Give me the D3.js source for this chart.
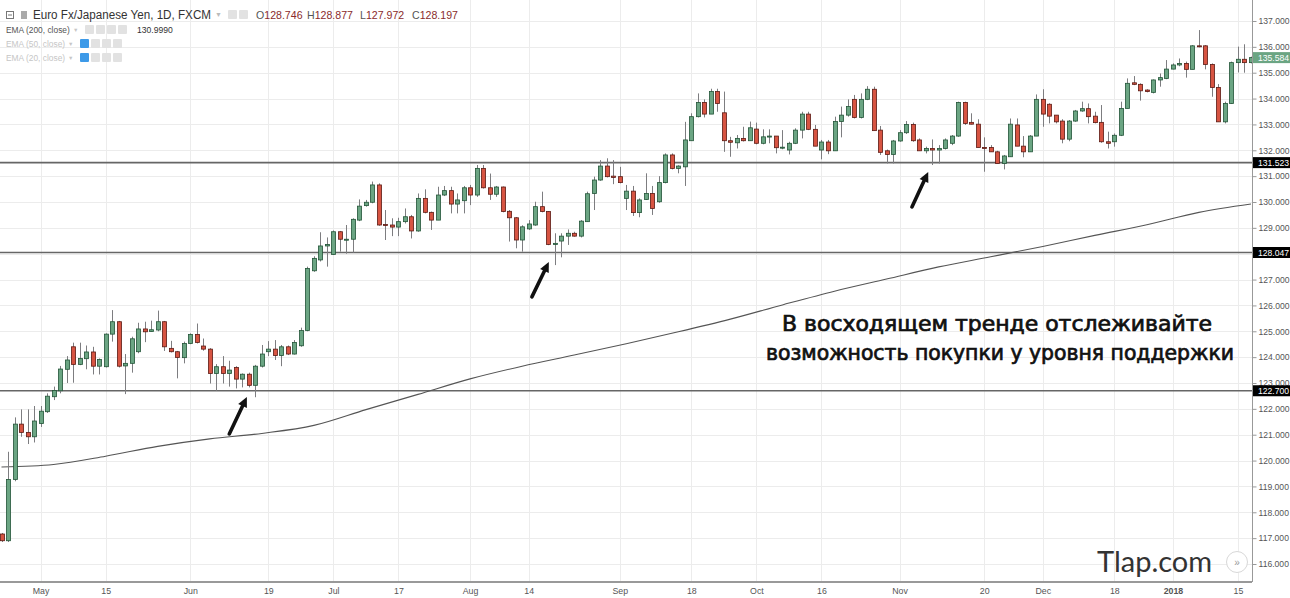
<!DOCTYPE html>
<meta charset="utf-8">
<style>
body { margin: 0; padding: 0; background: #fff; overflow: hidden; }
svg { display: block; font-family: "Liberation Sans", Arial, sans-serif; }
.axis path, .axis line { stroke: #999; }
.axis text { fill: #555; }
</style>
<body>
<svg id="chart" width="1290" height="598"></svg>
<script src="https://cdnjs.cloudflare.com/ajax/libs/d3/7.8.5/d3.min.js"></script>
<script>

// EUR/JPY daily, 21 Apr 2017 .. 17 Jan 2018 (weekdays, no 25 Dec)
var opens = [117.16,116.90,119.27,121.41,121.09,120.92,121.43,121.89,122.47,122.70,
  123.53,124.40,123.72,123.94,124.20,123.65,123.63,124.89,125.37,123.66,
  123.76,124.21,125.09,124.99,125.05,125.37,124.34,124.21,123.98,124.53,
  124.88,124.43,124.31,123.37,123.63,123.37,123.60,123.15,123.34,122.91,
  123.65,124.21,124.31,124.06,124.40,124.12,124.44,125.03,127.34,127.76,
  128.30,127.97,128.85,128.55,128.56,129.30,129.86,129.99,130.66,129.13,
  129.11,129.03,129.24,129.43,128.88,130.14,129.60,129.30,130.27,130.44,
  129.92,130.05,130.55,130.27,131.30,130.55,130.30,130.58,129.64,129.39,
  128.53,128.96,129.11,129.82,129.63,128.36,128.49,128.68,128.79,128.68,
  129.24,130.33,130.85,131.39,131.00,130.98,130.14,130.42,129.59,130.10,
  130.33,130.01,130.75,131.82,131.30,131.36,132.37,133.30,133.85,133.40,
  134.27,133.45,132.37,132.29,132.46,132.37,132.82,132.27,132.52,132.55,
  132.10,132.01,132.27,132.78,133.40,132.81,132.01,132.32,131.98,133.11,
  133.36,133.97,133.27,133.97,134.36,132.78,131.98,131.84,132.36,132.68,
  133.00,132.40,131.98,132.07,132.01,132.07,132.27,132.55,133.85,133.08,
  133.01,132.11,132.11,131.94,131.49,131.75,132.98,132.16,131.94,132.55,
  133.97,133.78,133.36,133.13,132.43,133.13,133.52,133.61,133.32,133.08,
  132.33,132.33,132.58,133.62,134.61,134.55,134.33,134.24,134.72,134.78,
  135.14,135.30,135.36,135.13,136.04,136.04,135.32,134.43,133.10,133.81,
  135.39,135.52,135.39];
var highs = [117.20,120.34,121.67,121.98,121.98,122.11,122.11,122.60,122.86,123.66,
  124.04,124.56,124.56,124.45,124.40,123.95,124.92,125.82,125.40,124.12,
  124.79,125.33,125.37,125.41,125.80,125.40,124.63,124.24,124.60,124.92,
  125.30,124.72,124.35,123.73,124.04,123.86,123.65,123.37,123.40,123.70,
  124.47,124.62,124.66,124.47,124.45,124.66,125.14,127.50,127.90,128.83,
  128.63,128.90,128.88,129.11,129.37,130.10,130.08,130.79,130.72,129.69,
  129.37,129.39,129.75,129.50,130.33,130.49,129.63,130.59,130.62,130.59,
  130.33,130.62,130.66,131.43,131.43,131.10,130.62,130.60,129.69,129.42,
  129.10,129.30,130.01,130.40,129.65,128.79,128.79,128.94,128.85,129.30,
  130.40,130.98,131.62,131.69,131.62,131.36,130.66,130.62,130.14,131.11,
  130.62,131.00,131.88,131.88,131.42,133.10,133.43,134.20,133.97,134.38,
  134.38,134.27,132.52,132.59,132.91,133.11,133.07,132.81,132.81,132.55,
  132.78,132.33,132.85,133.49,133.49,132.98,132.40,132.40,133.30,133.69,
  133.97,134.14,134.20,134.48,134.46,132.94,132.03,132.40,132.78,133.13,
  133.07,132.46,132.14,132.42,132.20,132.46,132.59,133.88,133.88,133.43,
  133.20,132.50,132.20,131.98,131.82,133.23,133.23,132.55,132.59,134.16,
  134.36,133.82,133.36,133.20,133.17,133.56,133.88,133.81,133.49,133.75,
  132.72,132.65,133.88,134.78,134.87,134.59,134.36,134.74,134.97,135.49,
  135.36,135.55,135.43,136.07,136.65,136.07,135.36,134.56,133.88,135.43,
  136.01,136.10,135.62];
var lows = [116.85,116.85,119.20,120.92,120.64,120.70,121.30,121.84,122.34,122.60,
  123.00,123.01,123.69,123.53,123.33,123.33,123.60,124.60,123.60,122.57,
  123.40,124.15,124.58,124.98,125.00,124.24,124.18,123.18,123.76,124.50,
  124.53,124.25,122.98,122.70,122.98,122.86,122.79,122.83,122.83,122.45,
  123.60,124.04,123.89,123.65,124.08,124.10,124.40,125.00,127.30,127.70,
  127.50,127.95,128.08,128.00,128.04,129.26,129.82,129.95,129.08,128.53,
  128.68,128.68,129.17,128.59,128.85,129.56,128.92,129.30,130.23,129.56,
  129.56,129.56,129.88,130.20,130.52,130.08,130.20,129.60,128.47,128.21,
  128.08,128.92,129.08,129.60,128.33,127.56,127.86,128.34,128.66,128.63,
  129.23,129.69,130.82,130.95,130.69,130.72,129.69,129.46,129.41,130.08,
  129.50,129.97,130.72,131.26,131.11,130.62,132.37,133.27,133.27,133.40,
  133.49,131.94,131.75,132.07,132.34,132.37,132.23,132.23,132.27,131.88,
  132.04,131.84,132.24,132.46,132.78,132.16,131.65,131.85,131.98,132.50,
  133.30,133.23,133.23,133.94,132.76,131.82,131.49,131.49,132.33,132.63,
  132.33,131.98,131.88,131.43,131.49,132.03,132.20,132.52,132.98,133.00,
  132.11,131.17,131.94,131.47,131.26,131.75,132.16,131.73,131.94,132.55,
  132.91,133.04,133.04,132.27,132.35,133.10,133.49,133.04,133.04,132.29,
  132.07,132.14,132.55,133.62,134.52,133.92,134.24,134.20,134.46,134.75,
  135.13,135.25,134.81,135.13,135.98,135.13,134.07,133.10,133.04,133.79,
  135.01,135.00,135.36];
var closes = [116.90,119.27,121.41,121.09,120.92,121.53,121.91,122.49,122.71,123.54,
  123.89,123.72,123.95,124.20,123.65,123.91,124.89,125.37,123.65,123.76,
  124.71,125.09,124.98,125.06,125.37,124.40,124.21,123.99,124.53,124.88,
  124.57,124.31,123.37,123.63,123.37,123.50,123.15,123.34,122.91,123.65,
  124.12,124.31,124.06,124.40,124.12,124.57,125.03,127.43,127.82,128.30,
  128.36,128.85,128.56,128.56,129.33,129.84,129.99,130.66,129.11,129.10,
  129.03,129.24,129.43,128.88,130.14,129.60,129.30,130.27,130.44,129.92,
  130.08,130.55,130.27,131.30,130.55,130.30,130.58,129.63,129.39,128.53,
  129.04,129.15,129.82,129.63,128.36,128.40,128.68,128.79,128.68,129.26,
  130.32,130.85,131.39,130.98,130.95,130.75,130.42,129.59,130.08,130.33,
  129.75,130.75,131.82,131.30,131.39,132.40,133.30,133.85,133.40,134.27,
  133.81,132.37,132.31,132.46,132.37,132.87,132.27,132.52,132.55,132.10,
  132.12,132.27,132.78,133.40,132.81,132.16,132.32,131.98,133.11,133.36,
  133.69,133.27,133.97,134.36,132.76,131.92,131.84,132.36,132.68,133.00,
  132.37,131.98,132.07,132.01,132.07,132.40,132.55,133.85,133.04,133.01,
  132.11,132.09,131.94,131.49,131.78,133.01,132.16,131.94,132.55,133.97,
  133.40,133.32,133.10,132.43,133.13,133.52,133.61,133.30,133.07,132.33,
  132.27,132.58,133.62,134.59,134.55,134.30,134.27,134.72,134.81,135.14,
  135.30,135.36,135.13,136.04,136.01,135.32,134.43,133.10,133.81,135.39,
  135.52,135.39,135.584];

var holidays = ["2017-12-25"];

// EMA(200, close), read every 8th bar
var emaBars = [0,8,16,24,32,40,48,56,64,72,80,88,96,104,112,120,128,136,144,152,160,168,176,184,192];
var emaValues = [119.75,119.85,120.17,120.55,120.84,121.05,121.36,121.97,122.56,123.16,
  123.65,124.08,124.52,124.98,125.47,126.02,126.55,127.02,127.49,127.88,
  128.28,128.71,129.12,129.60,129.92];

var tickDates = ["2017-05-01","2017-05-15","2017-06-01","2017-06-19","2017-07-03","2017-07-17",
  "2017-08-01","2017-08-14","2017-09-01","2017-09-18","2017-10-02","2017-10-16",
  "2017-11-01","2017-11-20","2017-12-01","2017-12-18","2018-01-01","2018-01-15"];
var tickLabels = ["May","15","Jun","19","Jul","17","Aug","14","Sep","18","Oct","16",
  "Nov","20","Dec","18","2018","15"];
var priceTicks = [116,117,118,119,120,121,122,123,124,125,126,127,128,129,130,131,132,133,134,135,136,137];

var supportLevels = [131.523, 128.047, 122.700];
var lastPrice = 135.584;

// arrows: [bar, price] tail -> tip
var arrows = [
  {from: [35.0, 121.03], to: [37.7, 122.46]},
  {from: [81.5, 126.33], to: [84.1, 127.68]},
  {from: [139.9, 129.81], to: [142.4, 131.16]}
];

var noteLines = ["В восходящем тренде отслеживайте", "возможность покупки у уровня поддержки"];

var fmt = d3.utcFormat("%Y-%m-%d");
var dates = d3.utcDays(new Date(Date.UTC(2017, 3, 21)), new Date(Date.UTC(2018, 0, 18)))
  .filter(function(d) { return d.getUTCDay() % 6 !== 0 && holidays.indexOf(fmt(d)) < 0; })
  .map(fmt);

var bars = dates.map(function(d, i) {
  return {date: d, o: opens[i], h: highs[i], l: lows[i], c: closes[i]};
});

var plotRight = 1252, plotBottom = 582;

var x = d3.scalePoint().domain(dates).range([1.5, 1251]);
var y = d3.scaleLinear().domain([116, 137]).range([564, 21]);
function xi(i) { return x(dates[0]) + i * x.step(); }

var svg = d3.select("#chart");

// grid
var grid = svg.append("g");
grid.selectAll(".hg").data(priceTicks).enter().append("line")
  .attr("x1", 0).attr("x2", plotRight)
  .attr("y1", function(d) { return Math.round(y(d)) + 0.5; })
  .attr("y2", function(d) { return Math.round(y(d)) + 0.5; })
  .attr("stroke", "#ececec");
grid.selectAll(".vg").data(tickDates).enter().append("line")
  .attr("x1", function(d) { return Math.round(x(d)) + 0.5; })
  .attr("x2", function(d) { return Math.round(x(d)) + 0.5; })
  .attr("y1", 0).attr("y2", plotBottom)
  .attr("stroke", "#ececec");

// support levels
svg.selectAll(".lvl").data(supportLevels).enter().append("line")
  .attr("x1", 0).attr("x2", plotRight)
  .attr("y1", function(d) { return y(d); })
  .attr("y2", function(d) { return y(d); })
  .attr("stroke", "#666").attr("stroke-width", 1.6);

// EMA 200
var emaLine = d3.line()
  .x(function(d, i) { return xi(emaBars[i]); })
  .y(function(d) { return y(d); })
  .curve(d3.curveMonotoneX);
svg.append("path").datum(emaValues)
  .attr("d", emaLine)
  .attr("fill", "none").attr("stroke", "#555").attr("stroke-width", 1.1);

// candles
var candle = svg.append("g").selectAll("g").data(bars).enter().append("g");
candle.append("line")
  .attr("x1", function(d) { return Math.round(x(d.date)) + 0.5; })
  .attr("x2", function(d) { return Math.round(x(d.date)) + 0.5; })
  .attr("y1", function(d) { return y(d.h); })
  .attr("y2", function(d) { return y(d.l); })
  .attr("stroke", "#7d7d80");
candle.append("rect")
  .attr("x", function(d) { return Math.round(x(d.date)) - 1.5; })
  .attr("width", 4)
  .attr("y", function(d) { return y(Math.max(d.o, d.c)); })
  .attr("height", function(d) { return Math.max(1, Math.abs(y(d.o) - y(d.c))); })
  .attr("fill", function(d) { return d.c >= d.o ? "#6ba583" : "#d75442"; })
  .attr("stroke", function(d) { return d.c >= d.o ? "#225437" : "#5b1a13"; })
  .attr("stroke-width", 0.8);

// arrows
arrows.forEach(function(a) {
  var x0 = xi(a.from[0]), y0 = y(a.from[1]), x1 = xi(a.to[0]), y1 = y(a.to[1]);
  var ang = Math.atan2(y1 - y0, x1 - x0), len = 10, w = 4.8;
  var bx = x1 - len * Math.cos(ang), by = y1 - len * Math.sin(ang);
  svg.append("line").attr("x1", x0).attr("y1", y0).attr("x2", bx).attr("y2", by)
    .attr("stroke", "#111").attr("stroke-width", 3.6).attr("stroke-linecap", "round");
  svg.append("path")
    .attr("d", "M" + x1 + "," + y1 +
      "L" + (bx + w * Math.sin(ang)) + "," + (by - w * Math.cos(ang)) +
      "L" + (bx - w * Math.sin(ang)) + "," + (by + w * Math.cos(ang)) + "Z")
    .attr("fill", "#111");
});

// annotation text
svg.selectAll(".note").data(noteLines).enter().append("text")
  .attr("x", function(d, i) { return i === 0 ? 782 : 766; })
  .attr("y", function(d, i) { return 331 + i * 29; })
  .attr("textLength", function(d, i) { return i === 0 ? 430 : 468; })
  .attr("lengthAdjust", "spacingAndGlyphs")
  .style("font-family", "'DejaVu Sans Condensed', 'DejaVu Sans', sans-serif")
  .style("font-size", "22px")
  .attr("fill", "#111").attr("stroke", "#111").attr("stroke-width", 0.7)
  .text(function(d) { return d; });

// right price axis
svg.append("rect").attr("x", plotRight).attr("y", 0).attr("width", 1290 - plotRight).attr("height", 598).attr("fill", "#fff");
svg.append("rect").attr("x", 0).attr("y", plotBottom).attr("width", 1290).attr("height", 598 - plotBottom).attr("fill", "#fff");

var yAxis = svg.append("g").attr("class", "axis")
  .attr("transform", "translate(" + (plotRight + 0.5) + ",0)")
  .call(d3.axisRight(y).tickValues(priceTicks).tickFormat(d3.format(".3f")).tickSize(4).tickPadding(2));
yAxis.select(".domain").attr("d", "M0,0V" + plotBottom);
yAxis.selectAll("text").style("font-size", "8.6px");

var xAxis = svg.append("g").attr("class", "axis")
  .attr("transform", "translate(0," + plotBottom + ")")
  .call(d3.axisBottom(x).tickValues(tickDates)
    .tickFormat(function(d, i) { return tickLabels[i]; }).tickSize(0).tickPadding(6));
xAxis.select(".domain").attr("d", "M0,0H" + plotRight).attr("stroke", "#9a9a9a").attr("stroke-width", 2);
xAxis.selectAll("text").style("font-size", "8.8px")
  .style("font-weight", function(d, i) { return tickLabels[i] === "2018" ? "bold" : null; });

// price labels on the axis
var labels = supportLevels.map(function(v) { return {v: v, bg: "#000"}; })
  .concat([{v: lastPrice, bg: "#6ba583"}]);
var lab = svg.selectAll(".plab").data(labels).enter().append("g")
  .attr("transform", function(d) { return "translate(" + (plotRight + 1) + "," + y(d.v) + ")"; });
lab.append("rect").attr("x", 0).attr("y", -5.5).attr("width", 1290 - plotRight).attr("height", 11)
  .attr("fill", function(d) { return d.bg; });
lab.append("text").attr("x", 5).attr("y", 3.2)
  .style("font-size", "8.6px").attr("fill", "#fff")
  .text(function(d) { return d.v.toFixed(3); });

// watermark + scroll button
svg.append("text").attr("x", 1097).attr("y", 572)
  .style("font-family", "Lato, 'Open Sans', sans-serif").style("font-size", "29px")
  .attr("fill", "#333").text("Tlap.com");
svg.append("circle").attr("cx", 1237).attr("cy", 562).attr("r", 10.5)
  .attr("fill", "#fff").attr("stroke", "#d8d8d8");
svg.append("text").attr("x", 1237).attr("y", 565.5).attr("text-anchor", "middle")
  .style("font-size", "10px").attr("fill", "#999").text("»");

// legend
var leg = svg.append("g");
leg.append("rect").attr("x", 6.5).attr("y", 11.5).attr("width", 7).attr("height", 7)
  .attr("fill", "none").attr("stroke", "#777");
leg.append("line").attr("x1", 8).attr("x2", 12).attr("y1", 15).attr("y2", 15).attr("stroke", "#777");
leg.append("rect").attr("x", 21).attr("y", 11).attr("width", 6).attr("height", 8).attr("fill", "#aaa");
leg.append("text").attr("x", 33).attr("y", 19).attr("textLength", 178).attr("lengthAdjust", "spacingAndGlyphs")
  .style("font-size", "12px").attr("fill", "#333").text("Euro Fx/Japanese Yen, 1D, FXCM");
leg.append("text").attr("x", 215).attr("y", 17).style("font-size", "7px").attr("fill", "#bbb").text("▼");
[228, 239].forEach(function(px) {
  leg.append("rect").attr("x", px).attr("y", 10).attr("width", 9).attr("height", 9).attr("rx", 1)
    .attr("fill", "#e2e2e2");
});
var ohlc = [["O", "128.746", 256], ["H", "128.877", 307], ["L", "127.972", 360], ["C", "128.197", 412]];
ohlc.forEach(function(p) {
  var t = leg.append("text").attr("x", p[2]).attr("y", 19).style("font-size", "10.6px");
  t.append("tspan").attr("fill", "#555").text(p[0]);
  t.append("tspan").attr("fill", "#8a2b2b").text(p[1]);
});

var emaRows = [
  {name: "EMA (200, close)", val: "130.9990", y: 33, col: "#555", ix: 85, blue: false},
  {name: "EMA (50, close)", val: "", y: 47, col: "#c6c6c6", ix: 80, blue: true},
  {name: "EMA (20, close)", val: "", y: 61, col: "#c6c6c6", ix: 80, blue: true}
];
emaRows.forEach(function(r) {
  leg.append("text").attr("x", 6).attr("y", r.y).style("font-size", "8.4px").attr("fill", r.col).text(r.name);
  leg.append("text").attr("x", r.ix - 12).attr("y", r.y - 1).style("font-size", "5.5px").attr("fill", "#c6c6c6").text("▼");
  [0, 1, 2, 3].forEach(function(k) {
    leg.append("rect").attr("x", r.ix + k * 11).attr("y", r.y - 8).attr("width", 9).attr("height", 9).attr("rx", 1)
      .attr("fill", r.blue && k === 0 ? "#3d9ae8" : "#e2e2e2");
  });
  if (r.val) leg.append("text").attr("x", 137).attr("y", r.y).style("font-size", "8.6px").attr("fill", "#333").text(r.val);
});

</script>
